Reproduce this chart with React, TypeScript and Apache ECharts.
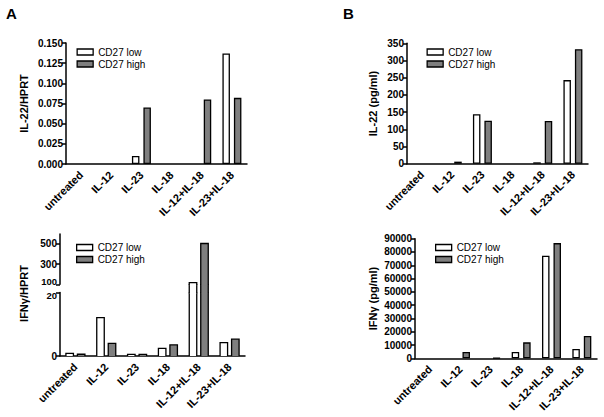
import React, { useEffect, useRef } from 'react';
import * as echarts from 'echarts';

const categories = ['untreated', 'IL-12', 'IL-23', 'IL-18', 'IL-12+IL-18', 'IL-23+IL-18'];
const seriesNames = ['CD27 low', 'CD27 high'];

// Panel A top: IL-22/HPRT
const il22HprtLow = [0, 0, 0.01, 0, 0, 0.137];
const il22HprtHigh = [0, 0, 0.07, 0, 0.08, 0.082];
// Panel A bottom: IFNγ/HPRT (broken axis)
const ifngHprtLow = [0.85, 12.1, 0.5, 2.4, 116, 4.2];
const ifngHprtHigh = [0.55, 4.0, 0.5, 3.5, 505, 5.3];
// Panel B top: IL-22 (pg/ml)
const il22PgLow = [0, 0, 144, 0, 4, 243];
const il22PgHigh = [0, 6, 125, 0, 124, 333];
// Panel B bottom: IFNγ (pg/ml)
const ifngPgLow = [0, 0, 0, 4700, 77200, 7000];
const ifngPgHigh = [0, 4700, 300, 12000, 86700, 16800];

// Broken axis segments and tick labels
const ifngHprtLowerRange = [0, 20];
const ifngHprtGapRange = [20, 100];
const ifngHprtUpperRange = [100, 600];
const ifngHprtLowerTicks = [0, 20];
const ifngHprtUpperTicks = [100, 300, 500];

const FONT = '"Liberation Sans", Arial, sans-serif';
const LOW_FILL = '#ffffff';
const HIGH_FILL = '#7f7f7f';
const BORDER = 1.3;
const BAR_W = 7.5;
const BAR_OFF = 5.75;

const axisLineStyle = { color: '#000', width: 1.5 };
const labelStyle = { fontSize: 10, fontWeight: 'bold' as const, color: '#000', fontFamily: FONT };

function xAxisFor(gridIndex: number, show: boolean) {
  return {
    type: 'category',
    gridIndex,
    data: categories,
    show,
    boundaryGap: true,
    axisLine: { lineStyle: axisLineStyle },
    axisTick: { alignWithLabel: true, length: 3, lineStyle: axisLineStyle },
    axisLabel: { ...labelStyle, fontSize: 11, rotate: 45, interval: 0, margin: 9 },
    splitLine: { show: false },
  };
}

function yAxisBase(gridIndex: number) {
  return {
    type: 'value',
    gridIndex,
    axisLine: { show: true, lineStyle: axisLineStyle },
    axisTick: { show: true, length: 4, lineStyle: axisLineStyle },
    axisLabel: { ...labelStyle, margin: 3 },
    splitLine: { show: false },
    nameLocation: 'middle',
    nameTextStyle: { fontSize: 11, fontWeight: 'bold', color: '#000', fontFamily: FONT },
  };
}

const noZero = (data: number[]) => data.map((v) => (v === 0 ? null : v));

function barSeries(name: string, data: number[], idx: number, fill: string) {
  return {
    type: 'bar',
    name,
    xAxisIndex: idx,
    yAxisIndex: idx,
    data: noZero(data),
    barWidth: BAR_W,
    barGap: '53%',
    itemStyle: { color: fill, borderColor: '#000', borderWidth: BORDER },
  };
}

function segmentSeries(name: string, values: number[], idx: number, range: number[], side: number, fill: string) {
  const lo = range[0];
  const hi = range[1];
  return {
    type: 'custom',
    name,
    xAxisIndex: idx,
    yAxisIndex: idx,
    itemStyle: { color: fill, borderColor: '#000', borderWidth: BORDER },
    encode: { x: 0, y: 1 },
    data: values.map((v, i) => [i, v]),
    renderItem: (params: any, api: any) => {
      const ci = api.value(0);
      const v = api.value(1);
      if (!(v > lo)) return null;
      const top = Math.min(v, hi);
      const base = api.coord([ci, lo]);
      const tp = api.coord([ci, top]);
      const cx = base[0] + side * BAR_OFF;
      const x0 = cx - BAR_W / 2;
      const x1 = cx + BAR_W / 2;
      // overlap segments slightly so no seam shows at the break joins
      const yb = base[1] + (lo > 0 ? 0.8 : 0);
      const yt = tp[1];
      const lineStyle = { stroke: '#000', lineWidth: BORDER, fill: null };
      const children: any[] = [
        { type: 'rect', shape: { x: x0, y: yt, width: BAR_W, height: yb - yt }, style: { fill } },
      ];
      if (v <= hi) {
        children.push({ type: 'polyline', shape: { points: [[x0, yb], [x0, yt], [x1, yt], [x1, yb]] }, style: lineStyle });
      } else {
        children.push({ type: 'polyline', shape: { points: [[x0, yb], [x0, yt]] }, style: lineStyle });
        children.push({ type: 'polyline', shape: { points: [[x1, yb], [x1, yt]] }, style: lineStyle });
      }
      return { type: 'group', children };
    },
  };
}

function legendAt(left: number, top: number) {
  return {
    left,
    top,
    orient: 'vertical',
    padding: 0,
    itemWidth: 16,
    itemHeight: 6,
    itemGap: 2,
    icon: 'rect',
    selectedMode: false,
    textStyle: { fontSize: 10, color: '#000', fontFamily: FONT },
    data: [
      { name: seriesNames[0], itemStyle: { color: LOW_FILL, borderColor: '#000', borderWidth: BORDER } },
      { name: seriesNames[1], itemStyle: { color: HIGH_FILL, borderColor: '#000', borderWidth: BORDER } },
    ],
  };
}

const breakLabelRich = {
  up: { ...labelStyle, fontSize: 9.5, padding: [0, 0, 5, 0] },
  down: { ...labelStyle, fontSize: 9.5, padding: [5, 0, 0, 0] },
};

export default function App() {
  const ref = useRef<HTMLDivElement>(null);
  useEffect(() => {
    if (!ref.current) return;
    const chart = echarts.init(ref.current, undefined, { renderer: 'svg' });
    const option: any = {
      animation: false,
      backgroundColor: '#fff',
      textStyle: { fontFamily: FONT },
      grid: [
        { left: 66, top: 43, width: 181, height: 121 },
        { left: 407, top: 43.3, width: 181, height: 120.4 },
        { left: 60, top: 292.5, width: 185, height: 63.5 },
        { left: 60, top: 284.3, width: 185, height: 8.2 },
        { left: 60, top: 233.9, width: 185, height: 50.4 },
        { left: 415, top: 238.7, width: 182, height: 119.6 },
      ],
      xAxis: [
        xAxisFor(0, true),
        xAxisFor(1, true),
        xAxisFor(2, true),
        xAxisFor(3, false),
        xAxisFor(4, false),
        xAxisFor(5, true),
      ],
      yAxis: [
        {
          ...yAxisBase(0), min: 0, max: 0.15, interval: 0.025,
          name: 'IL-22/HPRT', nameGap: 37,
          axisLabel: { ...labelStyle, margin: 3, formatter: (v: number) => v.toFixed(3) },
        },
        { ...yAxisBase(1), min: 0, max: 350, interval: 50, name: 'IL-22 (pg/ml)', nameGap: 29 },
        {
          ...yAxisBase(2), min: ifngHprtLowerRange[0], max: ifngHprtLowerRange[1],
          axisTick: { show: true, length: 4, lineStyle: axisLineStyle, customValues: ifngHprtLowerTicks },
          axisLabel: {
            ...labelStyle, margin: 3, customValues: ifngHprtLowerTicks,
            formatter: (v: number) => (v === ifngHprtLowerRange[1] ? `{down|${v}}` : `${v}`),
            rich: breakLabelRich,
          },
        },
        { ...yAxisBase(3), show: false, min: ifngHprtGapRange[0], max: ifngHprtGapRange[1] },
        {
          ...yAxisBase(4), min: ifngHprtUpperRange[0], max: ifngHprtUpperRange[1],
          axisTick: { show: true, length: 4, lineStyle: axisLineStyle, customValues: ifngHprtUpperTicks },
          axisLabel: {
            ...labelStyle, margin: 3, customValues: ifngHprtUpperTicks,
            formatter: (v: number) => (v === ifngHprtUpperRange[0] ? `{up|${v}}` : `${v}`),
            rich: breakLabelRich,
          },
        },
        {
          ...yAxisBase(5), min: 0, max: 90000, interval: 10000, name: 'IFNγ (pg/ml)', nameGap: 37,
          axisLabel: { ...labelStyle, margin: 3, formatter: (v: number) => String(v) },
        },
      ],
      legend: [legendAt(76.5, 47), legendAt(426.5, 47), legendAt(76, 242.5), legendAt(435, 242.5)],
      graphic: [
        { type: 'text', left: 6, top: 6, style: { text: 'A', fontSize: 15, fontWeight: 'bold', fill: '#000', fontFamily: FONT } },
        { type: 'text', left: 343, top: 6, style: { text: 'B', fontSize: 15, fontWeight: 'bold', fill: '#000', fontFamily: FONT } },
        {
          type: 'text', x: 24, y: 293.5, rotation: Math.PI / 2,
          style: { text: 'IFNγ/HPRT', fontSize: 11, fontWeight: 'bold', fill: '#000', fontFamily: FONT, align: 'center', verticalAlign: 'middle' },
        },
      ],
      series: [
        barSeries(seriesNames[0], il22HprtLow, 0, LOW_FILL),
        barSeries(seriesNames[1], il22HprtHigh, 0, HIGH_FILL),
        barSeries(seriesNames[0], il22PgLow, 1, LOW_FILL),
        barSeries(seriesNames[1], il22PgHigh, 1, HIGH_FILL),
        segmentSeries(seriesNames[0], ifngHprtLow, 2, ifngHprtLowerRange, -1, LOW_FILL),
        segmentSeries(seriesNames[1], ifngHprtHigh, 2, ifngHprtLowerRange, 1, HIGH_FILL),
        segmentSeries(seriesNames[0], ifngHprtLow, 3, ifngHprtGapRange, -1, LOW_FILL),
        segmentSeries(seriesNames[1], ifngHprtHigh, 3, ifngHprtGapRange, 1, HIGH_FILL),
        segmentSeries(seriesNames[0], ifngHprtLow, 4, ifngHprtUpperRange, -1, LOW_FILL),
        segmentSeries(seriesNames[1], ifngHprtHigh, 4, ifngHprtUpperRange, 1, HIGH_FILL),
        barSeries(seriesNames[0], ifngPgLow, 5, LOW_FILL),
        barSeries(seriesNames[1], ifngPgHigh, 5, HIGH_FILL),
      ],
    };
    chart.setOption(option);
    return () => chart.dispose();
  }, []);
  return <div ref={ref} style={{ position: 'absolute', left: 0, top: 0, width: 604, height: 417 }} />;
}
